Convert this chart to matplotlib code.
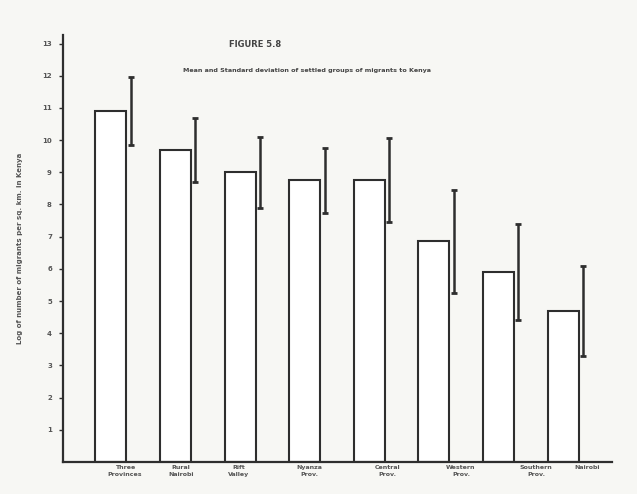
import matplotlib
matplotlib.use("Agg")
import matplotlib.pyplot as plt
import numpy as np

# NOTE: the scan is too blurred to read; the title, axis label and group
# names below are best guesses, not transcribed text. Values are read off
# the bar heights and error bar ends.
groups = ["Three\nProvinces", "Rural\nNairobi", "Rift\nValley", "Nyanza\nProv.",
          "Central\nProv.", "Western\nProv.", "Southern\nProv.", "Nairobi"]
means = [10.9, 9.7, 9.0, 8.75, 8.75, 6.85, 5.9, 4.7]
sds = [1.05, 1.0, 1.1, 1.0, 1.3, 1.6, 1.5, 1.4]
ytick_vals = list(range(1, 14))
ytick_labels = [str(v) for v in ytick_vals]

ink = "#2e2e2e"
paper = "#f7f7f4"

fig = plt.figure(figsize=(6.37, 4.94), dpi=100, facecolor=paper)
ax = fig.add_axes([0.099, 0.0648, 0.862, 0.864], facecolor=paper)

x = np.arange(len(groups))
ax.bar(x, means, width=0.48, facecolor="white", edgecolor=ink, linewidth=1.5)
ax.errorbar(x + 0.31, means, yerr=sds, fmt="none", ecolor=ink,
            elinewidth=1.8, capsize=2.0, capthick=2.0)

ax.set_xlim(-0.74, 7.76)
ax.set_ylim(0, 13.26)
ax.set_yticks(ytick_vals)
ax.set_yticklabels(ytick_labels, fontsize=5, color="#555555", fontweight="bold")
ax.tick_params(axis="y", length=3, width=1, color=ink, pad=5)

label_pos = [0.22, 0.08, -0.02, 0.07, 0.28, 0.42, 0.58, 0.38]
ax.set_xticks(x + np.array(label_pos))
ax.set_xticklabels(groups, fontsize=4.5, color="#555555", fontweight="bold",
                   linespacing=1.6)
ax.tick_params(axis="x", length=0, pad=2)

for s in ["top", "right"]:
    ax.spines[s].set_visible(False)
for s in ["left", "bottom"]:
    ax.spines[s].set_color(ink)
    ax.spines[s].set_linewidth(1.6)

ax.set_ylabel("Log of number of migrants per sq. km. in Kenya",
              fontsize=5, color="#555555", fontweight="bold", labelpad=14)

fig.text(0.36, 0.905, "FIGURE 5.8", fontsize=6, color="#444444",
         fontweight="bold", ha="left")
fig.text(0.288, 0.855,
         "Mean and Standard deviation of settled groups of migrants to Kenya",
         fontsize=4.6, color="#444444", fontweight="bold", ha="left")

fig.savefig("out.png", dpi=100, facecolor=paper)
